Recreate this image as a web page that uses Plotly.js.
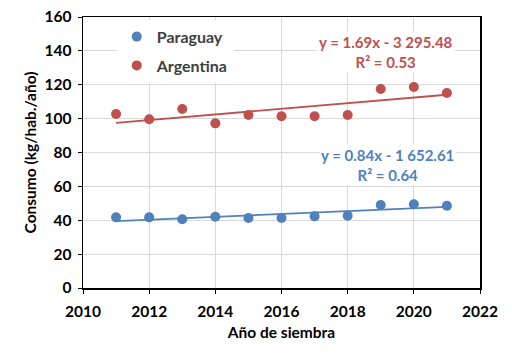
<!DOCTYPE html>
<html>
<head>
<meta charset="utf-8">
<script src="https://cdn.plot.ly/plotly-3.0.1.min.js"></script>
<style>html,body{margin:0;padding:0;background:#fff;}#chart{width:512px;height:362px;}</style>
</head>
<body>
<div id="chart"></div>
<script>
var years = [2011, 2012, 2013, 2014, 2015, 2016, 2017, 2018, 2019, 2020, 2021];
var paraguay = [41.7, 41.7, 40.6, 42.1, 41.3, 41.3, 42.3, 42.7, 49.0, 49.4, 48.6];
var argentina = [102.7, 99.6, 105.7, 97.2, 102.1, 101.4, 101.4, 102.1, 117.5, 118.7, 115.1];
var eqArgentina = ["y = 1.69x - 3 295.48", "R² = 0.53"];
var eqParaguay = ["y = 0.84x - 1 652.61", "R² = 0.64"];
var xTicks = [2010, 2012, 2014, 2016, 2018, 2020, 2022];
var yTicks = [0, 20, 40, 60, 80, 100, 120, 140, 160];

var BLUE = '#4F81BD', RED = '#C0504D';
var FONT = 'Lato, "Open Sans", sans-serif';

function linfit(x, y) {
  var n = x.length, mx = 0, my = 0;
  for (var i = 0; i < n; i++) { mx += x[i]; my += y[i]; }
  mx /= n; my /= n;
  var sxy = 0, sxx = 0;
  for (var i = 0; i < n; i++) { sxy += (x[i]-mx)*(y[i]-my); sxx += (x[i]-mx)*(x[i]-mx); }
  var b = sxy / sxx, a = my - b * mx;
  var xs = [x[0], x[n-1]];
  return {x: xs, y: xs.map(function(v){ return a + b*v; })};
}
var fitP = linfit(years, paraguay);
var fitA = linfit(years, argentina);

var traces = [
  {x: years, y: paraguay, type: 'scatter', mode: 'markers', name: 'Paraguay', legendgroup: 'p',
   marker: {color: BLUE, size: 10}},
  {x: years, y: argentina, type: 'scatter', mode: 'markers', name: 'Argentina', legendgroup: 'a',
   marker: {color: RED, size: 10}},
  {x: fitP.x, y: fitP.y, type: 'scatter', mode: 'lines', showlegend: false,
   line: {color: BLUE, width: 1.8}, hoverinfo: 'skip'},
  {x: fitA.x, y: fitA.y, type: 'scatter', mode: 'lines', showlegend: false,
   line: {color: RED, width: 1.8}, hoverinfo: 'skip'}
];

var tickFont = {family: FONT, size: 15.5, color: '#000', weight: 'bold'};
var titleFont = {family: FONT, size: 15.5, color: '#000', weight: 'bold'};
var eqFont = {family: FONT, size: 15, weight: 'bold'};

var layout = {
  width: 512, height: 362,
  margin: {l: 83, r: 32, t: 17, b: 74},
  paper_bgcolor: '#fff', plot_bgcolor: '#fff',
  showlegend: true,
  font: {family: FONT, size: 14, color: '#000'},
  xaxis: {
    range: [2010, 2022], tickvals: xTicks, ticktext: xTicks.map(String),
    showgrid: true, gridcolor: '#d9d9d9', gridwidth: 1,
    showline: true, linecolor: '#000', linewidth: 1.5, mirror: true,
    ticks: 'outside', ticklen: 4, tickcolor: '#000', zeroline: false,
    ticklabelstandoff: 5,
    tickfont: tickFont,
    title: {text: 'Año de siembra', font: titleFont, standoff: 8}
  },
  yaxis: {
    range: [0, 160], tickvals: yTicks, ticktext: yTicks.map(String),
    showgrid: true, gridcolor: '#d9d9d9', gridwidth: 1,
    showline: true, linecolor: '#000', linewidth: 1.5, mirror: true,
    ticks: 'outside', ticklen: 4, tickcolor: '#000', zeroline: false,
    ticklabelstandoff: 3,
    tickfont: tickFont,
    title: {text: 'Consumo (kg/hab./año)', font: titleFont, standoff: 4}
  },
  legend: {
    x: 0.085, y: 0.99, xanchor: 'left', yanchor: 'top',
    bgcolor: '#fff', borderwidth: 0,
    traceorder: 'grouped', tracegroupgap: 5,
    font: {family: FONT, size: 16, color: '#404040', weight: 'bold'},
    itemwidth: 30
  },
  annotations: [
    {xref: 'x', yref: 'y', x: 2019.17, y: 139.5, text: eqArgentina.join('<br>'), showarrow: false,
     font: Object.assign({color: RED}, eqFont), bgcolor: '#fff', align: 'center'},
    {xref: 'x', yref: 'y', x: 2019.2, y: 72.5, text: eqParaguay.join('<br>'), showarrow: false,
     font: Object.assign({color: BLUE}, eqFont), bgcolor: '#fff', align: 'center'}
  ]
};

Plotly.newPlot('chart', traces, layout, {displayModeBar: false, staticPlot: true});
</script>
</body>
</html>
